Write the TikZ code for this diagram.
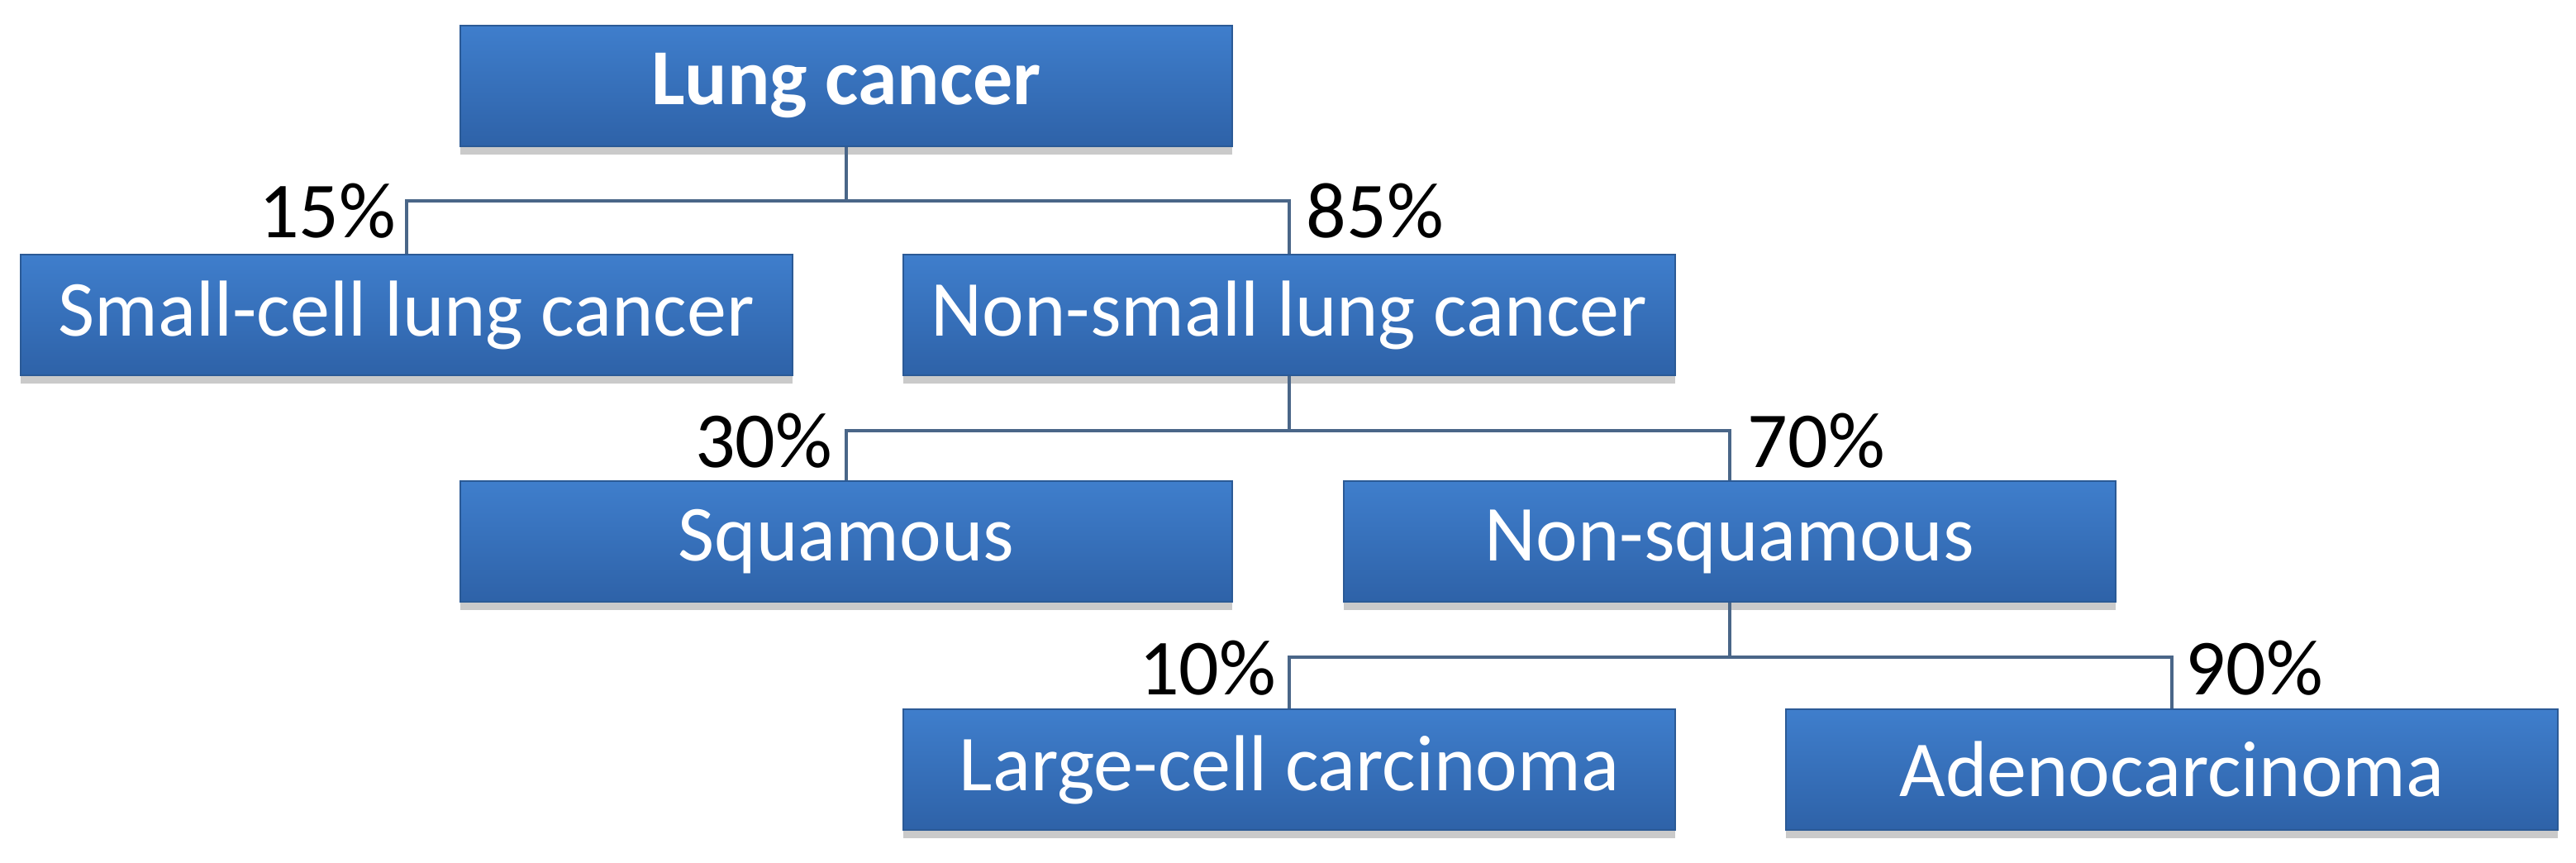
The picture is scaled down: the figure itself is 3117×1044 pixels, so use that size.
\documentclass[tikz,border=0pt]{standalone}
\usepackage{fontspec}
\setmainfont{Carlito}
\usetikzlibrary{shadows}
\definecolor{boxtop}{HTML}{3F7ECC}
\definecolor{boxbot}{HTML}{2E62A8}
\definecolor{boxedge}{HTML}{2B5A96}
\definecolor{linecol}{HTML}{4A6688}
\tikzset{
  x=0.25pt, y=-0.25pt,
  box/.style={rectangle, minimum width=233.5pt, minimum height=36.5pt, inner sep=0pt,
    top color=boxtop, bottom color=boxbot, draw=boxedge, line width=0.4pt,
    text=white, font=\fontsize{24}{28}\selectfont,
    drop shadow={shadow xshift=0pt, shadow yshift=-2.5pt, opacity=0.35, fill=black!60}},
  conn/.style={draw=linecol, line width=0.8pt},
  pct/.style={font=\fontsize{24}{28}\selectfont, text=black, inner sep=0pt}
}
\begin{document}
\begin{tikzpicture}
\useasboundingbox (0,0) rectangle (3117,1044);
% boxes
\node[box, font=\bfseries\fontsize{24}{28}\selectfont] (lung) at (1024,104) {Lung cancer};
\node[box] (small) at (492,381) {Small-cell lung cancer};
\node[box] (nonsmall) at (1560,381) {Non-small lung cancer};
\node[box] (squam) at (1024,655) {Squamous};
\node[box] (nonsquam) at (2093,655) {Non-squamous};
\node[box] (large) at (1560,931) {Large-cell carcinoma};
\node[box] (adeno) at (2628,931) {Adenocarcinoma};
% junctions
\coordinate (j1) at (1024,243);
\coordinate (j2) at (1560,521);
\coordinate (j3) at (2093,795);
% connectors
\draw[conn] (lung.south) -- (j1);
\draw[conn] (small.north) |- (j1) -| (nonsmall.north);
\draw[conn] (nonsmall.south) -- (j2);
\draw[conn] (squam.north) |- (j2) -| (nonsquam.north);
\draw[conn] (nonsquam.south) -- (j3);
\draw[conn] (large.north) |- (j3) -| (adeno.north);
% percentages
\node[pct, anchor=east] (p15) at (480,255) {15\%};
\node[pct, anchor=west] (p85) at (1580,255) {85\%};
\node[pct, anchor=east] (p30) at (1008,533) {30\%};
\node[pct, anchor=west] (p70) at (2114,533) {70\%};
\node[pct, anchor=east] (p10) at (1545,808) {10\%};
\node[pct, anchor=west] (p90) at (2644,808) {90\%};
\end{tikzpicture}
\end{document}
